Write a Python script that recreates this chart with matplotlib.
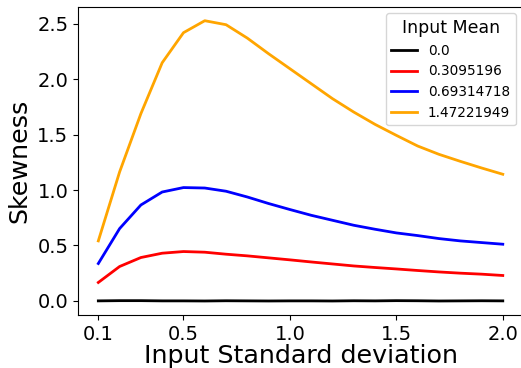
import matplotlib
matplotlib.use("Agg")
import matplotlib.pyplot as plt
import numpy as np

# Input standard deviations
sigma = [0.1, 0.2, 0.3, 0.4, 0.5, 0.6, 0.7, 0.8, 0.9, 1.0,
         1.1, 1.2, 1.3, 1.4, 1.5, 1.6, 1.7, 1.8, 1.9, 2.0]

# Input means (legend entries)
means = ["0.0", "0.3095196", "0.69314718", "1.47221949"]
colors = ["black", "red", "blue", "orange"]

# Skewness for each mean
skew_mean0 = [0.000, 0.002, 0.002, 0.000, 0.000, -0.001, 0.001, 0.000, -0.001, 0.000,
              0.000, -0.001, 0.001, 0.000, 0.002, 0.001, -0.001, 0.000, 0.001, 0.000]
skew_mean1 = [0.166, 0.310, 0.391, 0.430, 0.445, 0.439, 0.421, 0.406, 0.388, 0.370,
              0.351, 0.333, 0.315, 0.301, 0.288, 0.274, 0.261, 0.250, 0.241, 0.229]
skew_mean2 = [0.337, 0.652, 0.865, 0.982, 1.022, 1.018, 0.989, 0.937, 0.878, 0.824,
              0.772, 0.727, 0.682, 0.646, 0.613, 0.589, 0.562, 0.541, 0.526, 0.511]
skew_mean3 = [0.541, 1.163, 1.689, 2.148, 2.419, 2.527, 2.491, 2.370, 2.229, 2.094,
              1.959, 1.824, 1.703, 1.592, 1.493, 1.397, 1.322, 1.259, 1.199, 1.142]

series = [skew_mean0, skew_mean1, skew_mean2, skew_mean3]

xticks = [0.1, 0.5, 1.0, 1.5, 2.0]
xticklabels = ["0.1", "0.5", "1.0", "1.5", "2.0"]

fig = plt.figure(figsize=(5.21, 3.68), dpi=100)
ax = fig.add_axes([78.1 / 521, 1 - 315 / 368, 444.9 / 521, (315 - 6.7) / 368])

for vals, c, m in zip(series, colors, means):
    ax.plot(sigma, vals, color=c, linewidth=2, label=m)

ax.set_xticks(xticks)
ax.set_xticklabels(xticklabels)
ax.set_yticks([0.0, 0.5, 1.0, 1.5, 2.0, 2.5])
ax.tick_params(axis="both", labelsize=14)
ax.set_xlabel("Input Standard deviation", fontsize=18.3, labelpad=0.5)
ax.set_ylabel("Skewness", fontsize=18.3)

leg = ax.legend(title="Input Mean", fontsize=9.8, title_fontsize=12.5,
                loc="upper right", bbox_to_anchor=(0.9836, 0.9786),
                borderaxespad=0, handlelength=1.9)

fig.savefig("out.png", dpi=100)
